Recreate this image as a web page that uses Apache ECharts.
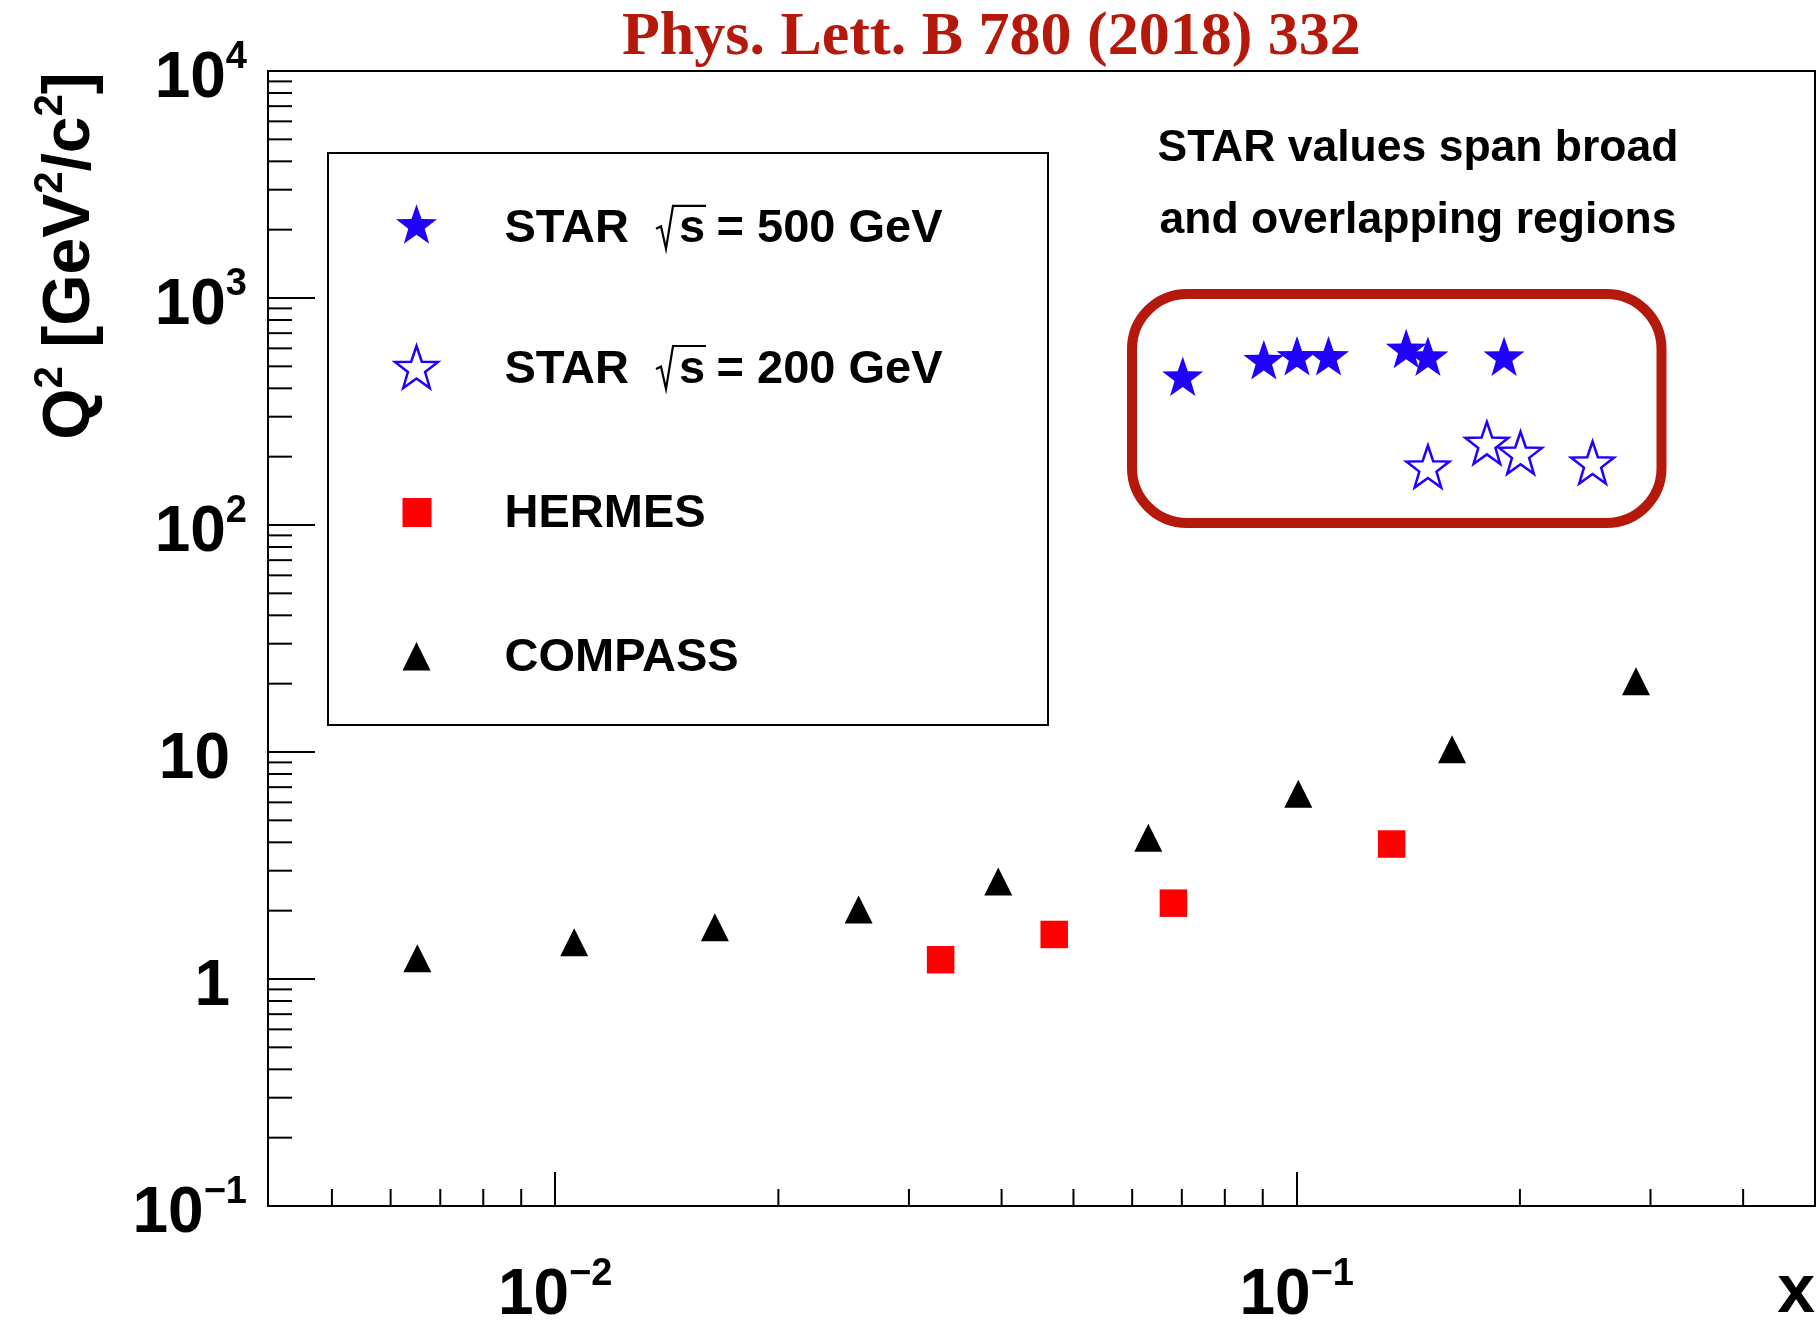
<!DOCTYPE html>
<html>
<head>
<meta charset="utf-8">
<script src="https://cdn.jsdelivr.net/npm/echarts@6/dist/echarts.min.js"></script>
<style>
html,body{margin:0;padding:0;background:#ffffff;}
#chart{width:1817px;height:1341px;}
</style>
</head>
<body>
<div id="chart"></div>
<script>
// ---------------- data ----------------
const seriesNames = ['STAR \u221As = 500 GeV', 'STAR \u221As = 200 GeV', 'HERMES', 'COMPASS'];

const star500X  = [0.0702, 0.0903, 0.1001, 0.1104, 0.1405, 0.1503, 0.1904];
const star500Q2 = [452, 535, 556, 556, 599, 554, 554];

const star200X  = [0.1503, 0.1805, 0.2004, 0.2506];
const star200Q2 = [181, 230, 208, 188.5];

const hermesX  = [0.0331, 0.0471, 0.0682, 0.1343];
const hermesQ2 = [1.216, 1.571, 2.158, 3.932];

const compassX  = [0.00652, 0.01061, 0.01642, 0.02566, 0.03959, 0.06308, 0.1005, 0.1620, 0.2868];
const compassQ2 = [1.235, 1.452, 1.691, 2.024, 2.688, 4.194, 6.552, 10.29, 20.49];

// axis ranges and tick labels
const xRange = [0.0041, 0.5];
const yRange = [0.1, 10000];
const xTickValues = [0.01, 0.1];
const xTickLabels = [['10', '\u22122'], ['10', '\u22121']];
const yTickValues = [0.1, 1, 10, 100, 1000, 10000];
const yTickLabels = [['10', '\u22121'], ['1', ''], ['10', ''], ['10', '2'], ['10', '3'], ['10', '4']];
const xMinorTicks = [0.005, 0.006, 0.007, 0.008, 0.009,
                     0.02, 0.03, 0.04, 0.05, 0.06, 0.07, 0.08, 0.09,
                     0.2, 0.3, 0.4];
const yMinorTicks = [0.2, 0.3, 0.4, 0.5, 0.6, 0.7, 0.8, 0.9,
                     2, 3, 4, 5, 6, 7, 8, 9,
                     20, 30, 40, 50, 60, 70, 80, 90,
                     200, 300, 400, 500, 600, 700, 800, 900,
                     2000, 3000, 4000, 5000, 6000, 7000, 8000, 9000];

const titleText = 'Phys. Lett. B 780 (2018) 332';
const noteLines = ['STAR values span broad', 'and overlapping regions'];

// ---------------- styles ----------------
const FONT = '"Liberation Sans", Arial, Helvetica, sans-serif';
const BLUE = '#2000ff';
const RED = '#ff0000';
const DARKRED = '#b5190b';
// five-pointed star outline in a 100-unit box
const STAR_PTS = [[50, 0], [61.76, 33.82], [97.55, 34.55], [69.02, 56.18], [79.39, 90.45],
                  [50, 70], [20.61, 90.45], [30.98, 56.18], [2.45, 34.55], [38.24, 33.82]];
const STAR_PATH = 'path://M' + STAR_PTS.map(p => p[0] + ' ' + p[1]).join(' L') + ' Z';
function starPolygon(cx, cy, w, h) {
  return STAR_PTS.map(p => [cx + ((p[0] - 2.45) / 95.1 - 0.5) * w, cy + (p[1] / 90.45 - 0.5) * h]);
}

function zip(xs, ys) { return xs.map((x, i) => [x, ys[i]]); }

function tickLabel(values, labels) {
  return function (v) {
    for (let i = 0; i < values.length; i++) {
      if (Math.abs(Math.log10(v) - Math.log10(values[i])) < 1e-6) {
        const l = labels[i];
        return l[1] ? '{n|' + l[0] + '}{s|' + l[1] + '}' : '{n|' + l[0] + '}{p| }';
      }
    }
    return '';
  };
}
const tickRich = {
  n: {fontFamily: FONT, fontWeight: 'bold', fontSize: 64, lineHeight: 80, color: '#000'},
  s: {fontFamily: FONT, fontWeight: 'bold', fontSize: 38, lineHeight: 36, color: '#000', verticalAlign: 'top'},
  p: {fontFamily: FONT, fontSize: 20, width: 17}
};

function minorTickSeries(data, dx, dy) {
  return {
    type: 'custom', coordinateSystem: 'cartesian2d', silent: true, clip: false, z: 5,
    data: data,
    renderItem: function (params, api) {
      const p = api.coord([api.value(0), api.value(1)]);
      return {type: 'line', shape: {x1: p[0], y1: p[1], x2: p[0] + dx, y2: p[1] + dy},
              style: {stroke: '#000', lineWidth: 2}};
    }
  };
}

// legend (drawn as graphic elements inside a framed box)
const legendBox = {x: 328, y: 153, w: 720, h: 572};
const legendRowsY = [229.5, 369.7, 513.7, 658.3];
const legendTextX = 504.5;
const legendFont = 'bold 47px ' + FONT;
const legendGraphics = [
  {type: 'rect', shape: {x: legendBox.x, y: legendBox.y, width: legendBox.w, height: legendBox.h},
   style: {fill: '#fff', stroke: '#000', lineWidth: 2}, z: 1},
  // icons
  {type: 'polygon', shape: {points: starPolygon(416.5, 224, 41, 39.5)}, style: {fill: BLUE}, z: 2},
  {type: 'polygon', shape: {points: starPolygon(416.5, 367, 43, 42)},
   style: {fill: '#fff', stroke: BLUE, lineWidth: 2.5}, z: 2},
  {type: 'rect', shape: {x: 402.5, y: 498, width: 29, height: 29}, style: {fill: RED}, z: 2},
  {type: 'polygon', shape: {points: [[416.5, 642], [430.5, 670.5], [402.5, 670.5]]}, style: {fill: '#000'}, z: 2}
];
const legendTexts = [
  ['STAR', '= 500 GeV', true],
  ['STAR', '= 200 GeV', true],
  ['HERMES', '', false],
  ['COMPASS', '', false]
];
legendTexts.forEach(function (t, i) {
  const y = legendRowsY[i];
  legendGraphics.push({type: 'text', x: legendTextX, y: y, z: 3,
    style: {text: t[0], font: legendFont, fill: '#000', align: 'left', verticalAlign: 'middle'}});
  if (t[2]) {
    const b = y + 16.3; // baseline
    legendGraphics.push({type: 'polyline', z: 3,
      shape: {points: [[656, b - 17], [661, b - 19.5], [666, b + 3], [673, b - 40], [706, b - 40]]},
      style: {stroke: '#000', lineWidth: 2.2, fill: null}});
    legendGraphics.push({type: 'text', x: 679, y: y, z: 3,
      style: {text: 's', font: legendFont, fill: '#000', align: 'left', verticalAlign: 'middle'}});
    legendGraphics.push({type: 'text', x: 716.5, y: y, z: 3,
      style: {text: t[1], font: legendFont, fill: '#000', align: 'left', verticalAlign: 'middle'}});
  }
});

const noteGraphics = [
  {type: 'text', x: 1418, y: 149, z: 3,
   style: {text: noteLines[0], font: 'bold 44.5px ' + FONT, fill: '#000', align: 'center', verticalAlign: 'middle'}},
  {type: 'text', x: 1418, y: 220.5, z: 3,
   style: {text: noteLines[1], font: 'bold 44.5px ' + FONT, fill: '#000', align: 'center', verticalAlign: 'middle'}},
  {type: 'rect', shape: {x: 1132, y: 294, width: 529.5, height: 229, r: 55}, z: 3,
   style: {fill: null, stroke: DARKRED, lineWidth: 10}}
];

const chart = echarts.init(document.getElementById('chart'), null, {renderer: 'canvas'});
chart.setOption({
  animation: false,
  backgroundColor: '#ffffff',
  textStyle: {fontFamily: FONT},
  title: {
    text: titleText, left: 622, top: 7, padding: 0,
    textStyle: {fontFamily: '"Liberation Serif", "Times New Roman", serif', fontWeight: 'bold',
                fontSize: 62, lineHeight: 62, color: DARKRED}
  },
  grid: {left: 268, top: 71, right: 2, bottom: 135, containLabel: false, outerBoundsMode: 'none',
         show: true, borderColor: '#000', borderWidth: 2, backgroundColor: 'transparent'},
  xAxis: {
    type: 'log', logBase: 10, min: xRange[0], max: xRange[1],
    name: 'x', nameLocation: 'end', nameGap: 0, nameMoveOverlap: false,
    nameTextStyle: {fontFamily: FONT, fontWeight: 'bold', fontSize: 68, color: '#000',
                    align: 'right', verticalAlign: 'top', lineHeight: 175},
    axisLine: {show: true, lineStyle: {color: '#000', width: 2}},
    axisTick: {show: true, inside: true, length: 34, lineStyle: {color: '#000', width: 2}},
    axisLabel: {show: true, margin: 40, padding: [10, 0, 0, 0], formatter: tickLabel(xTickValues, xTickLabels),
                rich: tickRich, showMinLabel: true, showMaxLabel: true, hideOverlap: false},
    splitLine: {show: false}, minorTick: {show: false}, minorSplitLine: {show: false}
  },
  yAxis: {
    type: 'log', logBase: 10, min: yRange[0], max: yRange[1],
    name: 'Q{sup|2} [GeV{sup|2}/c{sup|2}]', nameLocation: 'middle', nameGap: 157, nameMoveOverlap: false,
    nameTextStyle: {fontFamily: FONT, fontWeight: 'bold', fontSize: 66, lineHeight: 80, color: '#000',
                    padding: [0, 0, 0, 765],
                    rich: {sup: {fontFamily: FONT, fontWeight: 'bold', fontSize: 40, lineHeight: 40,
                                 verticalAlign: 'top', color: '#000'}}},
    axisLine: {show: true, lineStyle: {color: '#000', width: 2}},
    axisTick: {show: true, inside: true, length: 47, lineStyle: {color: '#000', width: 2}},
    axisLabel: {show: true, margin: 21, padding: [16, 0, 0, 0], formatter: tickLabel(yTickValues, yTickLabels),
                rich: tickRich, showMinLabel: true, showMaxLabel: true, hideOverlap: false},
    splitLine: {show: false}, minorTick: {show: false}, minorSplitLine: {show: false}
  },
  graphic: legendGraphics.concat(noteGraphics),
  series: [
    minorTickSeries(xMinorTicks.map(v => [v, yRange[0]]), 0, -17),
    minorTickSeries(yMinorTicks.map(v => [xRange[0], v]), 24, 0),
    {name: seriesNames[3], type: 'scatter', symbol: 'triangle', symbolSize: 28,
     itemStyle: {color: '#000', opacity: 1}, data: zip(compassX, compassQ2), z: 4},
    {name: seriesNames[2], type: 'scatter', symbol: 'rect', symbolSize: 27.5,
     itemStyle: {color: RED, opacity: 1}, data: zip(hermesX, hermesQ2), z: 4},
    {name: seriesNames[0], type: 'scatter', symbol: STAR_PATH, symbolSize: [41, 39.5], symbolKeepAspect: false,
     itemStyle: {color: BLUE, opacity: 1}, data: zip(star500X, star500Q2), z: 4},
    {name: seriesNames[1], type: 'scatter', symbol: STAR_PATH, symbolSize: [43, 42], symbolKeepAspect: false,
     itemStyle: {color: '#ffffff', borderColor: BLUE, borderWidth: 2.5, opacity: 1}, data: zip(star200X, star200Q2), z: 4}
  ]
});
</script>
</body>
</html>
